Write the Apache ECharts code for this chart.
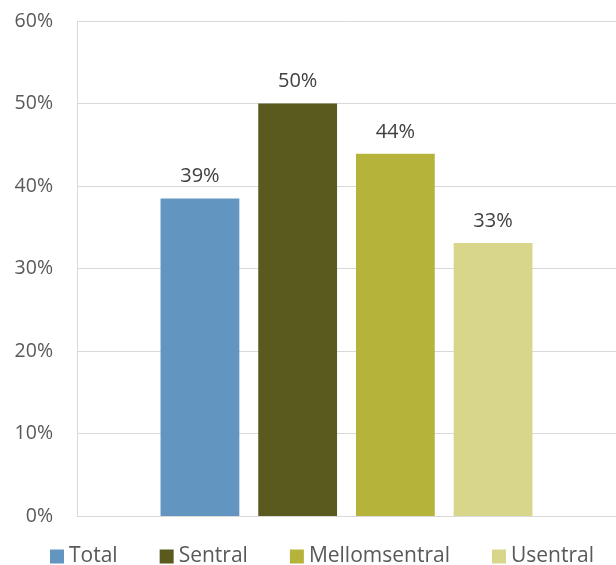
<!DOCTYPE html>
<html>
<head>
<meta charset="utf-8">
<script src="https://cdn.jsdelivr.net/npm/echarts@6/dist/echarts.min.js"></script>
<style>
  html, body { margin: 0; padding: 0; background: #fff; }
  #chart { width: 616px; height: 565px; }
</style>
</head>
<body>
<div id="chart"></div>
<script>
// Share by location type, one group of bars
const categories = [''];
const seriesNames = ['Total', 'Sentral', 'Mellomsentral', 'Usentral'];
const seriesValues = [38.5, 50, 43.9, 33.1];
const seriesColors = ['#6395c1', '#5a5a1f', '#b6b33b', '#d8d68a'];
const yTicks = { min: 0, max: 60, interval: 10 };

const FONT = '"Open Sans", "Noto Sans", sans-serif';
const TEXT = '#595959';

const chart = echarts.init(document.getElementById('chart'), null, { renderer: 'canvas' });

const series = seriesNames.map((name, i) => ({
  name: name,
  type: 'bar',
  data: [seriesValues[i]],
  itemStyle: { color: seriesColors[i] },
  barGap: '24%',
  barCategoryGap: '31%',
  label: {
    show: true,
    position: 'top',
    distance: 12,
    formatter: p => Math.round(p.value) + '%',
    color: '#404040',
    fontFamily: FONT,
    fontSize: 20
  }
}));

chart.setOption({
  animation: false,
  grid: { left: 77, right: -1, top: 21, bottom: 49, containLabel: false },
  legend: {
    top: 541,
    left: 45,
    itemWidth: 14,
    itemHeight: 14,
    itemGap: 42,
    icon: 'rect',
    textStyle: { color: TEXT, fontFamily: FONT, fontSize: 21 },
    data: seriesNames
  },
  xAxis: {
    type: 'category',
    data: categories,
    axisLine: { show: true, lineStyle: { color: '#d9d9d9' } },
    axisTick: { show: false },
    axisLabel: { show: false }
  },
  yAxis: {
    type: 'value',
    min: yTicks.min,
    max: yTicks.max,
    interval: yTicks.interval,
    axisLine: { show: true, lineStyle: { color: '#d9d9d9', width: 1 } },
    axisTick: { show: false },
    splitLine: { lineStyle: { color: '#d9d9d9', width: 1 } },
    axisLabel: {
      formatter: v => v + '%',
      color: TEXT,
      fontFamily: FONT,
      fontSize: 19.5,
      margin: 24
    }
  },
  series: series
});
</script>
</body>
</html>
